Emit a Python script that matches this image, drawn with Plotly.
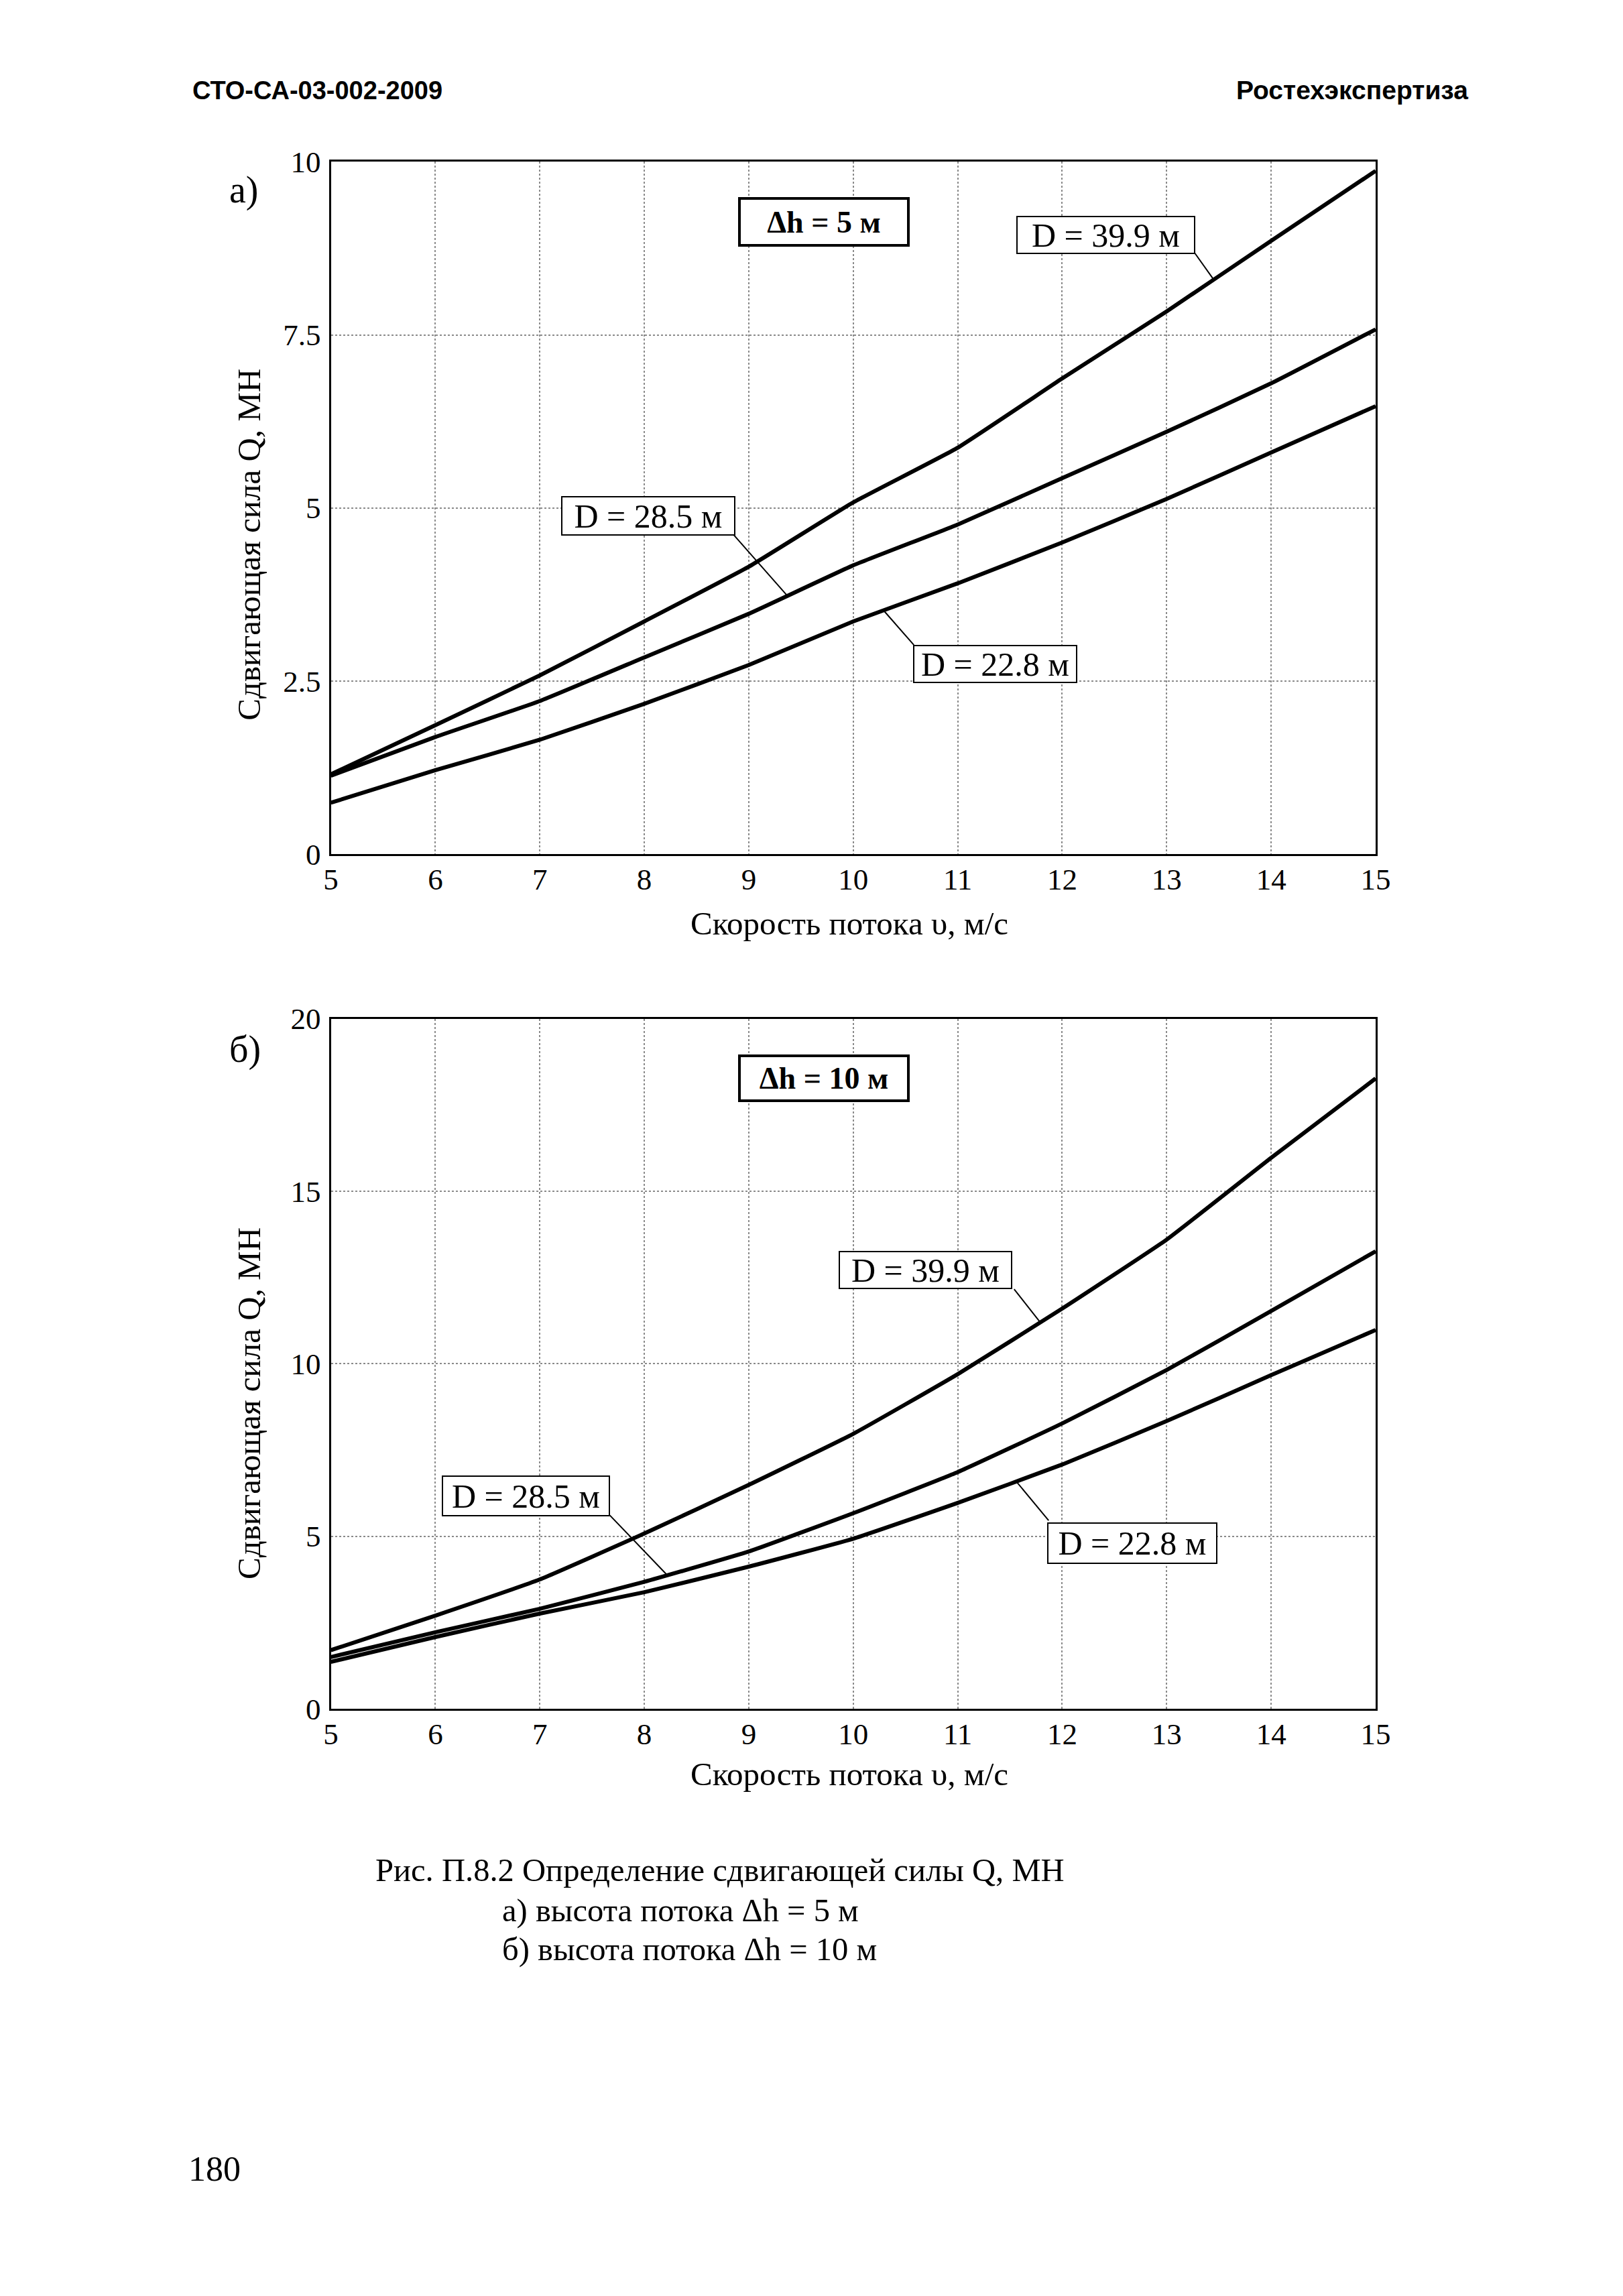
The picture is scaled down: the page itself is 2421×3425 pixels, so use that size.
import numpy as np
import plotly.graph_objects as go

W, H = 2421, 3425

# ---------------- data ----------------
speed = [5, 6, 7, 8, 9, 10, 11, 12, 13, 14, 15]

# a) dh = 5 m
q5_d399 = [1.15, 1.86, 2.58, 3.36, 4.15, 5.08, 5.87, 6.87, 7.84, 8.86, 9.87]
q5_d285 = [1.13, 1.69, 2.21, 2.84, 3.47, 4.17, 4.76, 5.43, 6.10, 6.80, 7.58]
q5_d228 = [0.74, 1.21, 1.65, 2.17, 2.73, 3.36, 3.91, 4.50, 5.13, 5.80, 6.47]

# b) dh = 10 m
q10_d399 = [1.70, 2.70, 3.75, 5.08, 6.49, 7.97, 9.70, 11.60, 13.60, 15.97, 18.27]
q10_d285 = [1.50, 2.22, 2.90, 3.68, 4.56, 5.67, 6.86, 8.27, 9.82, 11.53, 13.26]
q10_d228 = [1.36, 2.08, 2.76, 3.38, 4.12, 4.93, 5.97, 7.08, 8.34, 9.67, 10.98]

x_ticks = [5, 6, 7, 8, 9, 10, 11, 12, 13, 14, 15]
y_ticks_a = [0, 2.5, 5, 7.5, 10]
y_ticks_a_text = ["0", "2.5", "5", "7.5", "10"]
y_ticks_b = [0, 5, 10, 15, 20]
y_ticks_b_text = ["0", "5", "10", "15", "20"]

SERIF = "Liberation Serif"
SANS = "Liberation Sans"

# calibration of page pixel positions (target pixel -> layout pixel)
SX, OX = 0.9867, 18.3
SY, OY = 0.986, 32.4


def px(x):
    return ((x - OX) / SX) / W


def py(y):
    return 1 - ((y - OY) / SY) / H


fig = go.Figure()

line_style = dict(color="black", width=6, shape="spline", smoothing=0.35)
for ys in (q5_d399, q5_d285, q5_d228):
    fig.add_trace(go.Scatter(x=speed, y=ys, mode="lines", line=line_style,
                             xaxis="x", yaxis="y", showlegend=False, hoverinfo="skip"))
for ys in (q10_d399, q10_d285, q10_d228):
    fig.add_trace(go.Scatter(x=speed, y=ys, mode="lines", line=line_style,
                             xaxis="x2", yaxis="y2", showlegend=False, hoverinfo="skip"))

xdom = [px(493), px(2052)]
ydom_a = [py(1275), py(242)]
ydom_b = [py(2551), py(1521)]

axis_common = dict(
    showline=True, linecolor="black", linewidth=3, mirror=True,
    showgrid=True, gridcolor="#8a8a8a", gridwidth=1.5, griddash="dot",
    zeroline=False, ticks="", tickfont=dict(family=SERIF, size=45, color="black"),
)

fig.update_layout(
    width=W, height=H, autosize=False,
    margin=dict(l=0, r=0, t=0, b=0),
    paper_bgcolor="white", plot_bgcolor="white",
    xaxis=dict(domain=xdom, range=[5, 15], tickvals=x_ticks, anchor="y",
               ticklabelstandoff=-4, **axis_common),
    yaxis=dict(domain=ydom_a, range=[0, 10], tickvals=y_ticks_a, ticktext=y_ticks_a_text,
               anchor="x", ticklabelstandoff=3, **axis_common),
    xaxis2=dict(domain=xdom, range=[5, 15], tickvals=x_ticks, anchor="y2",
                ticklabelstandoff=-4, **axis_common),
    yaxis2=dict(domain=ydom_b, range=[0, 20], tickvals=y_ticks_b, ticktext=y_ticks_b_text,
                anchor="x2", ticklabelstandoff=3, **axis_common),
)

annotations = []
shapes = []


def label_box(text, x, y, xr, yr, w, h, bold=False, bw=2, size=50):
    annotations.append(dict(
        text=("<b>%s</b>" % text) if bold else text, x=x, y=y, xref=xr, yref=yr,
        showarrow=False, xanchor="center", yanchor="middle",
        font=dict(family=SERIF, size=size, color="black"),
        bgcolor="white", bordercolor="black", borderwidth=bw, borderpad=2,
        width=w, height=h, align="center",
    ))


def leader(x0, y0, x1, series, xr, yr):
    y1 = float(np.interp(x1, speed, series))
    shapes.append(dict(type="line", x0=x0, y0=y0, x1=x1, y1=y1, xref=xr, yref=yr,
                       line=dict(color="black", width=2)))


# ---- plot a labels ----
label_box("Δh = 5 м", 9.72, 9.13, "x", "y", 244, 62, bold=True, bw=4, size=46)
leader(13.27, 8.68, 13.45, q5_d399, "x", "y")
leader(8.85, 4.62, 9.37, q5_d285, "x", "y")
leader(10.58, 3.02, 10.29, q5_d228, "x", "y")
label_box("D = 39.9 м", 12.42, 8.94, "x", "y", 259, 49)
label_box("D = 28.5 м", 8.04, 4.89, "x", "y", 252, 51)
label_box("D = 22.8 м", 11.36, 2.74, "x", "y", 237, 49)

# ---- plot b labels ----
label_box("Δh = 10 м", 9.72, 18.27, "x2", "y2", 244, 59, bold=True, bw=4, size=46)
leader(11.54, 12.16, 11.79, q10_d399, "x2", "y2")
leader(7.67, 5.61, 8.22, q10_d285, "x2", "y2")
leader(11.87, 5.46, 11.56, q10_d228, "x2", "y2")
label_box("D = 39.9 м", 10.69, 12.72, "x2", "y2", 251, 49)
label_box("D = 28.5 м", 6.87, 6.17, "x2", "y2", 243, 53)
label_box("D = 22.8 м", 12.67, 4.80, "x2", "y2", 246, 54)


def text(t, x, y, size, xanchor="left", family=SERIF, angle=0, bold=False):
    annotations.append(dict(
        text=("<b>%s</b>" % t) if bold else t, x=px(x), y=py(y), xref="paper", yref="paper",
        showarrow=False, xanchor=xanchor, yanchor="middle", textangle=angle,
        font=dict(family=family, size=size, color="black"),
    ))


# header
text("СТО-СА-03-002-2009", 284, 135, 38, family=SANS, bold=True)
text("Ростехэкспертиза", 2192, 135, 39, xanchor="right", family=SANS, bold=True)

# panel letters
text("а)", 339, 284, 56)
text("б)", 339, 1567, 56)

# axis titles
text("Сдвигающая сила Q, МН", 371, 813, 49, xanchor="center", angle=-90)
text("Скорость потока υ, м/с", 1267, 1379, 49, xanchor="center")
text("Сдвигающая сила Q, МН", 371, 2095, 49, xanchor="center", angle=-90)
text("Скорость потока υ, м/с", 1267, 2648, 49, xanchor="center")

# caption
text("Рис. П.8.2 Определение сдвигающей силы Q, МН", 557, 2792, 48.6)
text("а) высота потока Δh = 5 м", 747, 2852, 48.6)
text("б) высота потока Δh = 10 м", 747, 2910, 48.6)

# page number
text("180", 278, 3238, 52)

fig.update_layout(annotations=annotations, shapes=shapes)

fig.write_html("out.html", config={"displayModeBar": False})
